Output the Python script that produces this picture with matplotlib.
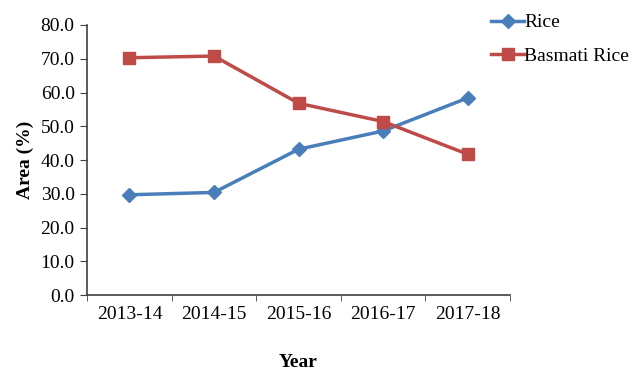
import matplotlib
matplotlib.use('Agg')
from matplotlib import pyplot as plt

years = ['2013-14', '2014-15', '2015-16', '2016-17', '2017-18']
rice = [29.7, 30.4, 43.2, 48.6, 58.4]
basmati = [70.3, 70.8, 56.8, 51.4, 41.7]

BLUE = '#4a7ebb'
RED = '#be4b48'

plt.rcParams['font.family'] = 'Liberation Serif'
plt.rcParams['font.size'] = 14

fig = plt.figure(figsize=(6.36, 3.73), dpi=100)
ax = fig.add_axes([0.137, 0.209, 0.665, 0.724])

x = range(len(years))
ax.plot(x, rice, color=BLUE, lw=2.5, marker='D', ms=7, label='Rice')
ax.plot(x, basmati, color=RED, lw=2.5, marker='s', ms=9, label='Basmati Rice')

ax.set_xlim(-0.5, len(years) - 0.5)
ax.set_ylim(0, 80)
ax.set_yticks(range(0, 81, 10))
ax.set_yticklabels([f'{v:.1f}' for v in range(0, 81, 10)])
ax.set_xticks(x)
ax.set_xticklabels(years)
ax.set_xticks([i - 0.5 for i in range(len(years) + 1)], minor=True)
ax.tick_params(axis='x', which='major', length=0, pad=8)
ax.tick_params(axis='x', which='minor', length=4, direction='out', color='#404040')
ax.tick_params(axis='y', length=5, direction='out', color='#404040', pad=4)

for s in ['top', 'right']:
    ax.spines[s].set_visible(False)
for s in ['left', 'bottom']:
    ax.spines[s].set_color('#404040')
    ax.spines[s].set_linewidth(1.2)

ax.set_ylabel('Area (%)', fontweight='bold', labelpad=5)
ax.set_xlabel('Year', fontweight='bold', labelpad=22)

fig.legend(loc='upper left', bbox_to_anchor=(0.745, 1.01), frameon=False,
           handlelength=1.7, handletextpad=0.0, labelspacing=0.8, fontsize=14)

fig.savefig('out.png', dpi=100)
